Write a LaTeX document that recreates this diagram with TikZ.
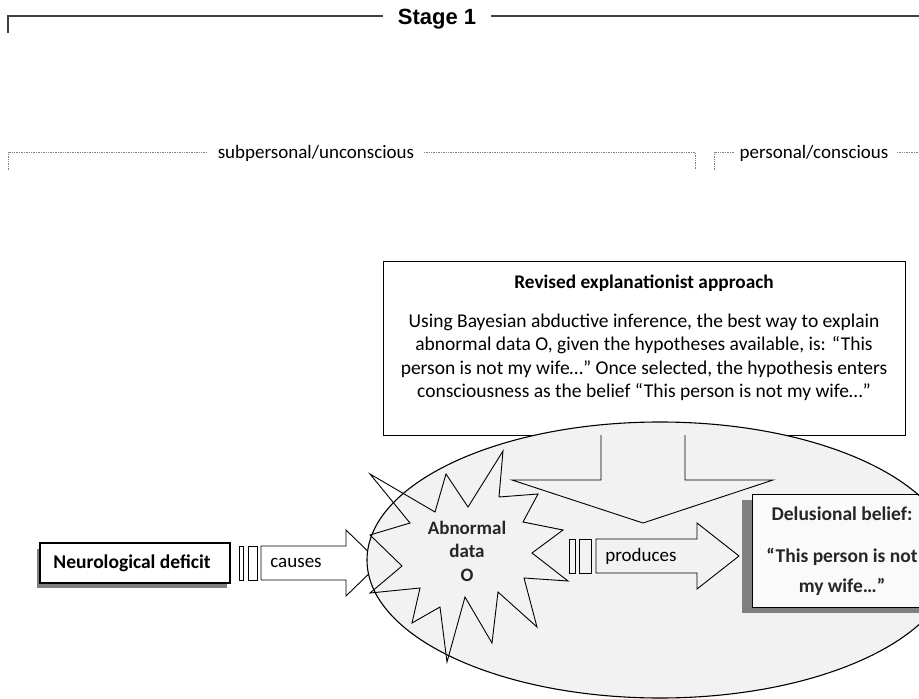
\documentclass[tikz,border=0pt]{standalone}
\usepackage{fontspec}
\setmainfont{Carlito}
\newfontfamily\stagefont{Liberation Sans}
\begin{document}
\begin{tikzpicture}[x=1pt,y=-1pt,
  stageline/.style={draw=black!75,line width=1.6pt},
  dotline/.style={draw=black!50,densely dotted,line width=0.7pt},
  lbl/.style={font=\fontsize{19}{22}\selectfont,inner sep=0pt},
  shp/.style={draw=black,line width=0.9pt,line join=miter},
  boxline/.style={draw=black,line width=1.1pt},
  shadowfill/.style={fill=black!50},
  body/.style={font=\fontsize{19.5}{23.2}\selectfont,align=center,inner sep=0pt},
  boldtxt/.style={font=\bfseries\fontsize{19}{23.5}\selectfont,align=center,inner sep=0pt,text=black!85}
]
\clip (0,0) rectangle (919,699);
\fill[white] (0,0) rectangle (919,699);

% ---- Stage 1 header
\node[font=\stagefont\bfseries\fontsize{22}{24}\selectfont,anchor=base,inner sep=0pt] (stage) at (437,24.5) {Stage 1};
\coordinate (stl) at (8,33);
\coordinate (stc) at (8,16);
\coordinate (stle) at (383,16);
\coordinate (strs) at (491,16);
\coordinate (stre) at (919,16);
\draw[stageline] (stl) -- (stc) -- (stle);
\draw[stageline] (strs) -- (stre);

% ---- subpersonal / personal brackets
\node[lbl,anchor=base] (sub) at (316,158) {subpersonal/unconscious};
\node[lbl,anchor=base] (per) at (814,158) {personal/conscious};
\coordinate (a1) at (8,170);
\coordinate (a2) at (8,152);
\coordinate (a3) at (207,152);
\coordinate (a4) at (424,152);
\coordinate (a5) at (695,152);
\coordinate (a6) at (695,170);
\coordinate (b1) at (714,170);
\coordinate (b2) at (714,152);
\coordinate (b3) at (735,152);
\coordinate (b4) at (897,152);
\coordinate (b5) at (919,152);
\draw[dotline] (a1) -- (a2) -- (a3);
\draw[dotline] (a4) -- (a5) -- (a6);
\draw[dotline] (b1) -- (b2) -- (b3);
\draw[dotline] (b4) -- (b5);

% ---- Revised explanationist approach box
\node[boxline,fill=white,minimum width=522pt,minimum height=174pt,anchor=north west,inner sep=0pt] (rev) at (383,261) {};
\node[font=\bfseries\fontsize{19.3}{22}\selectfont,inner sep=0pt] (revt) at (644,283) {Revised explanationist approach};
\node[body,anchor=north] (revb) at (644,314) {Using Bayesian abductive inference, the best way to explain\\
abnormal data O, given the hypotheses available, is: “This\\
person is not my wife…” Once selected, the hypothesis enters\\
consciousness as the belief “This person is not my wife…”};

% ---- Neurological deficit box
\fill[shadowfill] (37,549) rectangle (227,588);
\node[boxline,fill=white,minimum width=190pt,minimum height=40pt,inner sep=0pt] (neuro) at (135,563) {};
\node[font=\bfseries\fontsize{19.5}{22}\selectfont,inner sep=0pt] (neurot) at (132,563) {Neurological deficit};

% ---- causes arrow
\draw[shp,fill=white] (239,546) rectangle (243,580);
\draw[shp,fill=white] (248,546) rectangle (257,580);
\draw[shp,fill=white] (261,546) -- (346,546) -- (346,530) -- (380,563) -- (346,596) -- (346,580) -- (261,580) -- cycle;
\node[lbl] (causes) at (296,563) {causes};

% ---- ellipse fill
\path[fill=black!5] (660,560) ellipse [x radius=293pt, y radius=138pt];

% ---- starburst
\draw[shp] (370,474) -- (410,523) -- (370,535) -- (402,566) -- (370,593) -- (420,588)
  -- (412,623) -- (440,607) -- (447,662) -- (465,597) -- (492,643) -- (498,592)
  -- (537,627) -- (524,578) -- (568,581) -- (532,553) -- (563,530) -- (523,522)
  -- (538,494) -- (499,497) -- (503,451) -- (468,507) -- (446,474) -- (435,512) -- cycle;

% ---- down arrow from the box
\coordinate (dl) at (601,435);
\coordinate (dr) at (685,435);
\draw[shp] (dl) -- (601,480) -- (512,480) -- (643,523) -- (773,480) -- (685,480) -- (dr);

% ---- produces arrow
\draw[shp] (569,539) rectangle (575,573);
\draw[shp] (579,539) rectangle (591,573);
\draw[shp] (596,539) -- (697,539) -- (697,523) -- (739,556) -- (697,589) -- (697,573) -- (596,573) -- cycle;
\node[lbl] (produces) at (641,556) {produces};

% ---- delusional belief box
\fill[shadowfill] (742,500) rectangle (932,613);
\node[boxline,fill=black!2,minimum width=190pt,minimum height=113pt,anchor=north west,inner sep=0pt] (delu) at (752,494) {};
\node[boldtxt,font=\bfseries\fontsize{19.5}{22}\selectfont] (delut) at (842,514) {Delusional belief:};
\node[boldtxt,font=\bfseries\fontsize{19.5}{30}\selectfont] (delub) at (842,572) {“This person is not\\my wife…”};

% ---- ellipse outline
\draw[black,line width=1.1pt] (660,560) ellipse [x radius=293pt, y radius=138pt];

% ---- abnormal data text
\node[boldtxt] (abn) at (467,551) {Abnormal\\data\\O};
\end{tikzpicture}
\end{document}
